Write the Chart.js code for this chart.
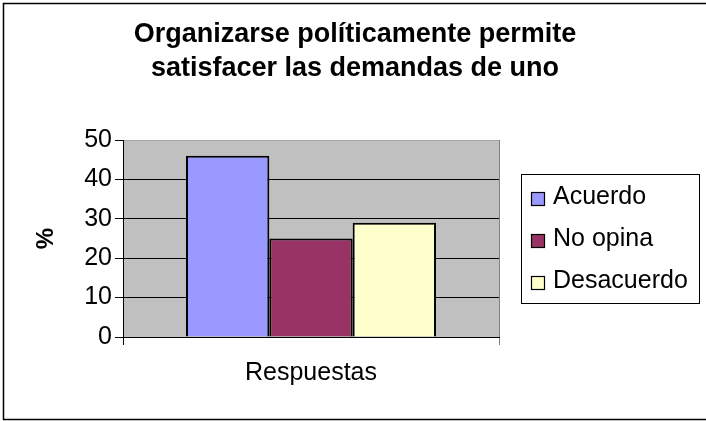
<!DOCTYPE html>
<html>
<head>
<meta charset="utf-8">
<script src="https://cdn.jsdelivr.net/npm/chart.js@4.4.0/dist/chart.umd.min.js"></script>
<style>
html,body{margin:0;padding:0;background:#fff;overflow:hidden}
#wrap{width:706px;height:421px;position:relative}
</style>
</head>
<body>
<div id="wrap"><canvas id="c"></canvas></div>
<script>
const titleLines = ['Organizarse políticamente permite', 'satisfacer las demandas de uno'];
const categories = ['Respuestas'];
const seriesNames = ['Acuerdo', 'No opina', 'Desacuerdo'];
const seriesValues = [[46], [25], [29]];
const seriesColors = ['#9999FF', '#993366', '#FFFFCC'];
const yTicks = [0, 10, 20, 30, 40, 50];
const yAxisTitle = '%';

const FONT = "'Liberation Sans', Arial, sans-serif";

const plotBackground = {
  id: 'plotBackground',
  beforeDraw(chart) {
    const {ctx, chartArea: a} = chart;
    ctx.save();
    ctx.fillStyle = '#ffffff';
    ctx.fillRect(0, 0, chart.width, chart.height);
    ctx.fillStyle = '#C0C0C0';
    ctx.fillRect(a.left, a.top, a.right - a.left, a.bottom - a.top);
    ctx.restore();
  }
};

const boxedLegend = {
  id: 'boxedLegend',
  afterDraw(chart) {
    const {ctx, chartArea: a} = chart;
    const x0 = a.right + 22, y0 = a.top + 34, w = 178, h = 129;
    ctx.save();
    ctx.fillStyle = '#ffffff';
    ctx.fillRect(x0, y0, w, h);
    ctx.strokeStyle = '#000000';
    ctx.lineWidth = 1;
    ctx.strokeRect(x0 + 0.5, y0 + 0.5, w, h);
    ctx.font = '25px ' + FONT;
    ctx.textBaseline = 'alphabetic';
    ctx.textAlign = 'left';
    chart.data.datasets.forEach((ds, i) => {
      const base = y0 + 30 + i * 42;
      ctx.fillStyle = ds.backgroundColor;
      ctx.fillRect(x0 + 10, base - 12, 14, 14);
      ctx.strokeStyle = '#000000';
      ctx.lineWidth = 1.2;
      ctx.strokeRect(x0 + 10.5, base - 11.5, 13, 13);
      ctx.fillStyle = '#000000';
      ctx.fillText(ds.label, x0 + 32, base);
    });
    // outer chart frame
    ctx.lineWidth = 1.5;
    ctx.strokeStyle = '#000000';
    ctx.strokeRect(3.5, 3.5, chart.width, chart.height - 5);
    ctx.restore();
  }
};

new Chart(document.getElementById('c'), {
  type: 'bar',
  data: {
    labels: categories,
    datasets: seriesNames.map((name, i) => ({
      label: name,
      data: seriesValues[i],
      backgroundColor: seriesColors[i],
      borderColor: '#000000',
      borderWidth: 2,
      barPercentage: 1,
      categoryPercentage: 0.665
    }))
  },
  options: {
    responsive: true,
    maintainAspectRatio: false,
    animation: false,
    devicePixelRatio: 1,
    layout: {padding: {left: 4, right: 0, top: 0, bottom: 0}},
    plugins: {
      legend: {display: false},
      tooltip: {enabled: false},
      title: {
        display: true,
        text: titleLines,
        color: '#000000',
        font: {family: FONT, size: 27, weight: 'bold', lineHeight: '34px'},
        padding: {top: 18, bottom: 54}
      }
    },
    scales: {
      x: {
        offset: true,
        grid: {
          display: true,
          offset: true,
          drawOnChartArea: true,
          color: (c) => (c.type === 'tick' && c.index === 0) ? '#000000' : '#808080',
          lineWidth: 1,
          tickLength: 8
        },
        border: {display: true, color: '#000000', width: 1},
        ticks: {color: '#000000', font: {family: FONT, size: 25}, padding: 13},
        afterFit(s) { s.height = 84; }
      },
      y: {
        min: yTicks[0],
        max: yTicks[yTicks.length - 1],
        ticks: {
          stepSize: yTicks[1] - yTicks[0],
          color: '#000000',
          font: {family: FONT, size: 25},
          padding: 3
        },
        grid: {
          color: (c) => (c.tick && c.tick.value === yTicks[yTicks.length - 1]) ? '#A8A8A8' : '#000000',
          tickColor: '#000000',
          lineWidth: 1,
          tickLength: 8
        },
        border: {display: true, color: '#000000', width: 1},
        title: {
          display: true,
          text: yAxisTitle,
          color: '#000000',
          font: {family: FONT, size: 24, weight: 'bold'},
          padding: {top: 28, bottom: 0}
        },
        afterFit(s) { s.width = 119; }
      },
      yR: {
        type: 'linear',
        position: 'right',
        display: true,
        grid: {display: false},
        ticks: {display: false},
        border: {display: false},
        afterFit(s) { s.width = 207; }
      }
    }
  },
  plugins: [plotBackground, boxedLegend]
});
</script>
</body>
</html>
